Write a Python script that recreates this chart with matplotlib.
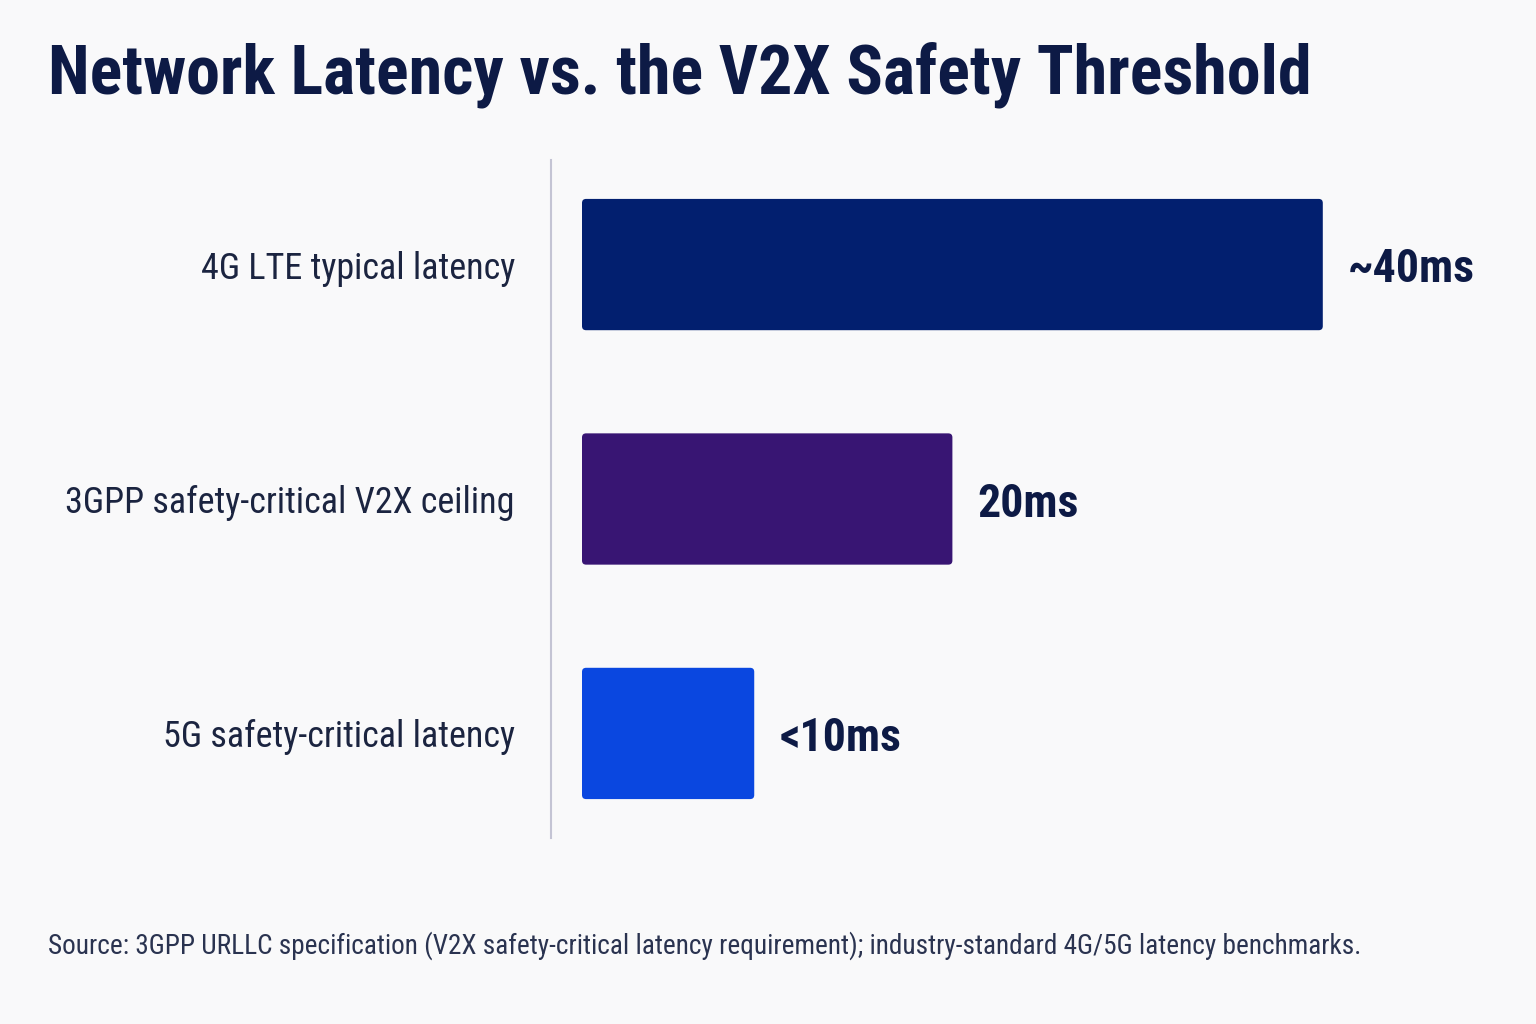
import matplotlib
matplotlib.use('Agg')
import matplotlib.pyplot as plt
from matplotlib.patches import FancyBboxPatch

# 窄体字优先,没有就退回 Roboto
plt.rcParams['font.family'] = ['Roboto Condensed', 'Liberation Sans Narrow', 'Roboto', 'DejaVu Sans']

# 配色
BG = '#F9F9FA'
NAVY = '#0D1A45'
LABEL = '#1B2440'
AXIS = '#C4C4D4'

categories = ['4G LTE typical latency', '3GPP safety-critical V2X ceiling', '5G safety-critical latency']
values = [40, 20, 9.3]
value_labels = ['~40ms', '20ms', '<10ms']
colors = ['#021F6F', '#381573', '#0A47E0']

fig = plt.figure(figsize=(15.36, 10.24), dpi=100, facecolor=BG)
ax = fig.add_axes([551 / 1536, 1 - 838 / 1024, (1500 - 551) / 1536, (838 - 160) / 1024])
ax.set_facecolor(BG)

px_per_ms = 18.52
ax.set_xlim(-31 / px_per_ms, (1500 - 582) / px_per_ms)
ax.set_ylim(2.446, -0.446)

bar_h = 0.56
ypos = range(len(categories))
for y, v, c, lab in zip(ypos, values, colors, value_labels):
    box = FancyBboxPatch((0, y - bar_h / 2), v, bar_h,
                         boxstyle='round,pad=0,rounding_size=0.22',
                         mutation_aspect=px_per_ms / 234.5,
                         facecolor=c, edgecolor='none')
    ax.add_patch(box)
    ax.text(v + 25 / px_per_ms, y + 0.02, lab, ha='left', va='center',
            fontsize=33, fontweight='bold', color=NAVY)

ax.set_yticks(list(ypos))
ax.set_yticklabels(categories, fontsize=26, color=LABEL)
ax.tick_params(axis='y', length=0, pad=26)
ax.set_xticks([])
for s in ['top', 'right', 'bottom']:
    ax.spines[s].set_visible(False)
ax.spines['left'].set_color(AXIS)
ax.spines['left'].set_linewidth(1.5)

fig.text(48 / 1536, 1 - 75 / 1024, 'Network Latency vs. the V2X Safety Threshold',
         ha='left', va='center', fontsize=49, fontweight='bold', color=NAVY)
fig.text(48 / 1536, 1 - 946 / 1024,
         'Source: 3GPP URLLC specification (V2X safety-critical latency requirement); '
         'industry-standard 4G/5G latency benchmarks.',
         ha='left', va='center', fontsize=19.6, color='#2A3350')

fig.savefig('out.png', dpi=100, facecolor=BG)
